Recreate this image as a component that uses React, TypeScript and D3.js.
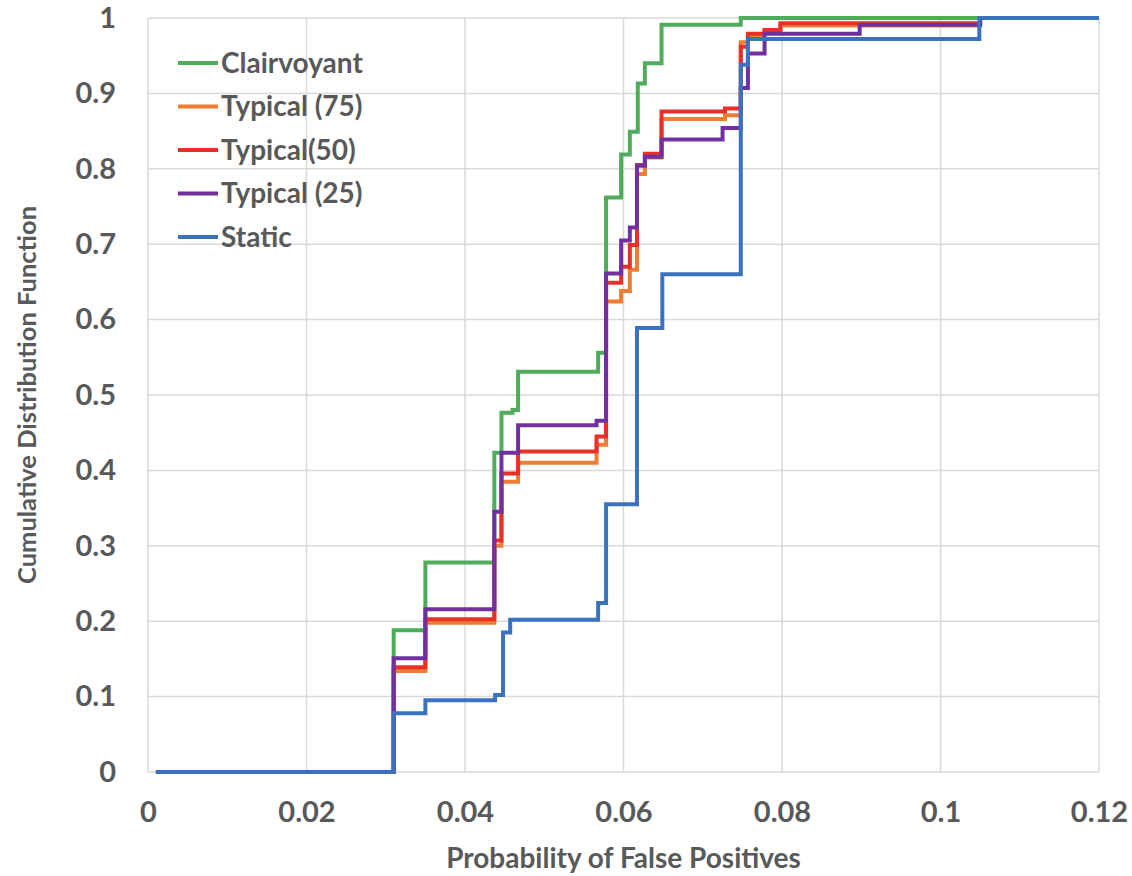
import * as d3 from "d3";
import {useEffect, useRef} from "react";

const width = 1132;
const height = 876;
const margin = {top: 18, right: 33, bottom: 104, left: 148};

// series: [probability of false positives, CDF]
const clairvoyant = [
    [0.001, 0], [0.031, 0.188], [0.035, 0.278], [0.0437, 0.4235], [0.0446, 0.4765], [0.046, 0.48],
    [0.0467, 0.531], [0.0568, 0.556], [0.0578, 0.762], [0.0597, 0.819], [0.0608, 0.849], [0.0618, 0.913],
    [0.0627, 0.94], [0.0648, 0.991], [0.0748, 1], [0.105, 1]
];
const typical75 = [
    [0.001, 0], [0.031, 0.134], [0.035, 0.198], [0.0437, 0.3], [0.0446, 0.385], [0.0467, 0.41],
    [0.0566, 0.434], [0.0578, 0.624], [0.0597, 0.638], [0.0608, 0.666], [0.0617, 0.793], [0.0627, 0.815],
    [0.0648, 0.866], [0.0728, 0.871], [0.0748, 0.968], [0.0757, 0.975], [0.0778, 0.982], [0.0798, 0.99],
    [0.105, 1]
];
const typical50 = [
    [0.001, 0], [0.031, 0.139], [0.035, 0.2025], [0.0437, 0.307], [0.0446, 0.396], [0.0467, 0.425],
    [0.0566, 0.445], [0.0578, 0.649], [0.0597, 0.67], [0.0608, 0.699], [0.0617, 0.805], [0.0627, 0.82],
    [0.0648, 0.876], [0.0728, 0.88], [0.0748, 0.962], [0.0757, 0.979], [0.0778, 0.984], [0.0798, 0.993],
    [0.105, 1]
];
const typical25 = [
    [0.001, 0], [0.031, 0.151], [0.035, 0.216], [0.0437, 0.345], [0.0446, 0.4235], [0.0467, 0.46],
    [0.0566, 0.466], [0.0578, 0.661], [0.0597, 0.705], [0.0608, 0.722], [0.0617, 0.804], [0.0627, 0.816],
    [0.0648, 0.839], [0.0725, 0.854], [0.0748, 0.907], [0.0757, 0.953], [0.0778, 0.979], [0.0898, 0.991],
    [0.105, 1]
];
const staticSeries = [
    [0.001, 0], [0.031, 0.078], [0.035, 0.095], [0.0438, 0.102], [0.0448, 0.185], [0.0457, 0.202],
    [0.0568, 0.224], [0.0578, 0.355], [0.0617, 0.589], [0.0649, 0.66], [0.0748, 0.938], [0.0757, 0.972],
    [0.1049, 1], [0.12, 1]
];

const seriesNames = ["Clairvoyant", "Typical (75)", "Typical(50)", "Typical (25)", "Static"];
const seriesData = [clairvoyant, typical75, typical50, typical25, staticSeries];
const colors = ["#4eac5b", "#ed7d31", "#e8302a", "#7030a0", "#3a72c0"];

const xTicks = [0, 0.02, 0.04, 0.06, 0.08, 0.1, 0.12];
const yTicks = [0, 0.1, 0.2, 0.3, 0.4, 0.5, 0.6, 0.7, 0.8, 0.9, 1];

const font = "Lato, 'Open Sans', sans-serif";
const textColor = "#595959";

const App = () => {
    const svgRef = useRef(null)

    useEffect(() => {
        const svg = d3.select(svgRef.current)
        svg.selectAll("*").remove()

        const x = d3.scaleLinear().domain([0, 0.12]).range([margin.left, width - margin.right])
        const y = d3.scaleLinear().domain([0, 1]).range([height - margin.bottom, margin.top])

        // сетка
        const grid = svg.append("g")
        grid.selectAll(".vg").data(xTicks).join("line")
            .attr("x1", d => x(d)).attr("x2", d => x(d))
            .attr("y1", y(0)).attr("y2", y(1))
            .attr("stroke", "#d9d9d9").attr("stroke-width", 1.5)
        grid.selectAll(".hg").data(yTicks).join("line")
            .attr("x1", x(0)).attr("x2", x(0.12))
            .attr("y1", d => y(d)).attr("y2", d => y(d))
            .attr("stroke", "#d9d9d9").attr("stroke-width", 1.5)

        // подписи осей
        const xAxis = d3.axisBottom(x).tickValues(xTicks).tickFormat(d => String(d)).tickSize(0).tickPadding(29)
        const gx = svg.append("g").attr("transform", `translate(0,${y(0)})`).call(xAxis)
        gx.select(".domain").remove()
        gx.selectAll("text").attr("fill", textColor).attr("font-size", 29).attr("font-weight", 700)
            .attr("font-family", font)

        const yAxis = d3.axisLeft(y).tickValues(yTicks).tickFormat(d => String(d)).tickSize(0).tickPadding(32)
        const gy = svg.append("g").attr("transform", `translate(${x(0)},0)`).call(yAxis)
        gy.select(".domain").remove()
        gy.selectAll("text").attr("fill", textColor).attr("font-size", 29).attr("font-weight", 700)
            .attr("font-family", font)

        svg.append("text")
            .attr("x", (x(0) + x(0.12)) / 2).attr("y", 868)
            .attr("text-anchor", "middle")
            .attr("fill", textColor).attr("font-size", 28).attr("font-weight", 700).attr("font-family", font)
            .text("Probability of False Positives")

        svg.append("text")
            .attr("transform", `translate(36,${(y(0) + y(1)) / 2}) rotate(-90)`)
            .attr("text-anchor", "middle")
            .attr("fill", textColor).attr("font-size", 25.5).attr("font-weight", 700).attr("font-family", font)
            .text("Cumulative Distribution Function")

        // линии
        const line = d3.line().x(d => x(d[0])).y(d => y(d[1])).curve(d3.curveStepAfter)
        svg.append("g").selectAll("path").data(seriesData).join("path")
            .attr("d", d => line(d))
            .attr("fill", "none")
            .attr("stroke", (d, i) => colors[i])
            .attr("stroke-width", 4)
            .attr("stroke-linejoin", "miter")

        // легенда
        const legend = svg.append("g")
        const rows = legend.selectAll("g").data(seriesNames).join("g")
            .attr("transform", (d, i) => `translate(178,${63 + i * 43.5})`)
        rows.append("line")
            .attr("x1", 0).attr("x2", 40).attr("y1", 0).attr("y2", 0)
            .attr("stroke", (d, i) => colors[i]).attr("stroke-width", 4)
        rows.append("text")
            .attr("x", 43).attr("dy", "0.35em")
            .attr("fill", textColor).attr("font-size", 28).attr("font-weight", 700).attr("font-family", font)
            .text(d => d)
    }, []);

    return <svg ref={svgRef} width={width} height={height}
                style={{position: "absolute", left: 0, top: 0, background: "#fff"}}/>
}

export default App
